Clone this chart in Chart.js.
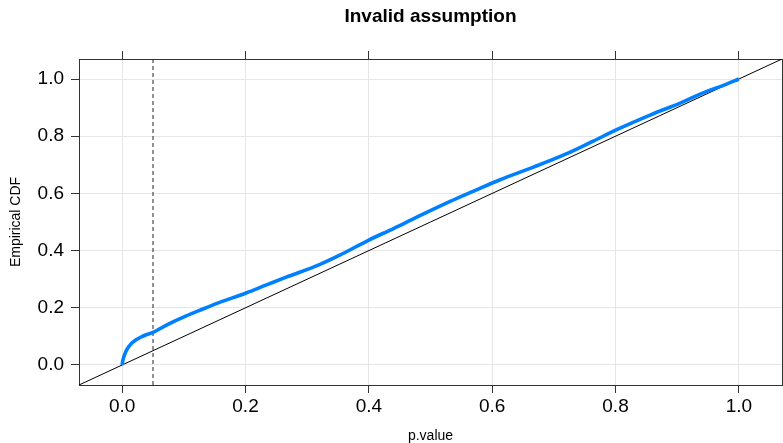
<!DOCTYPE html>
<html>
<head>
<meta charset="utf-8">
<script src="https://cdn.jsdelivr.net/npm/chart.js@4.4.1/dist/chart.umd.min.js"></script>
<style>
  html, body { margin: 0; padding: 0; background: #ffffff; }
  #wrap { width: 783px; height: 443px; }
</style>
</head>
<body>
<div id="wrap"><canvas id="c" width="783" height="443"></canvas></div>
<script>
// ---- data ----
const pValue = [0, 0.001, 0.003, 0.006, 0.010, 0.015, 0.022, 0.030, 0.038, 0.049, 0.075, 0.103, 0.130, 0.157, 0.200, 0.233, 0.266, 0.320, 0.352, 0.400, 0.440, 0.477, 0.531, 0.570, 0.612, 0.666, 0.720, 0.764, 0.801, 0.856, 0.904, 0.947, 0.975, 1.000];
const ecdf   = [0, 0.015, 0.030, 0.047, 0.062, 0.075, 0.087, 0.097, 0.105, 0.113, 0.143, 0.171, 0.195, 0.218, 0.251, 0.279, 0.307, 0.351, 0.383, 0.437, 0.477, 0.516, 0.571, 0.608, 0.647, 0.691, 0.738, 0.783, 0.822, 0.874, 0.915, 0.956, 0.978, 1.000];
const xTickValues = [0, 0.2, 0.4, 0.6, 0.8, 1.0];
const yTickValues = [0, 0.2, 0.4, 0.6, 0.8, 1.0];
const alphaLevel = 0.05;
const axisMin = -0.07;
const axisMax = 1.07;
const titleText = 'Invalid assumption';
const xLabel = 'p.value';
const yLabel = 'Empirical CDF';

const FONT = "'Liberation Sans', Arial, Helvetica, sans-serif";
const GRID = '#e6e6e6';
const FRAME = '#333333';

const curve = pValue.map((x, i) => ({ x: x, y: ecdf[i] }));
const diag = [{ x: axisMin, y: axisMin }, { x: axisMax, y: axisMax }];
const vline = [{ x: alphaLevel, y: axisMin }, { x: alphaLevel, y: axisMax }];

function setTicks(values) {
  return function (scale) { scale.ticks = values.map(v => ({ value: v })); };
}
const fmt = v => Number(v).toFixed(1);

new Chart(document.getElementById('c'), {
  type: 'scatter',
  data: {
    datasets: [
      { data: diag, showLine: true, borderColor: '#000000', borderWidth: 1, pointRadius: 0, order: 2 },
      { data: vline, showLine: true, borderColor: '#222222', borderWidth: 1, borderDash: [4, 3], pointRadius: 0, order: 3 },
      { data: curve, showLine: true, borderColor: '#0080ff', borderWidth: 3.6, pointRadius: 0,
        cubicInterpolationMode: 'monotone', order: 1 }
    ]
  },
  options: {
    responsive: false,
    animation: false,
    events: [],
    layout: { padding: 0 },
    plugins: {
      legend: { display: false },
      tooltip: { enabled: false },
      title: {
        display: true, text: titleText, color: '#000000', fullSize: false,
        font: { family: FONT, size: 19, weight: 'bold', lineHeight: 1.2 },
        padding: { top: 5, bottom: 23.2 }
      }
    },
    scales: {
      x: {
        type: 'linear', position: 'bottom', min: axisMin, max: axisMax,
        afterBuildTicks: setTicks(xTickValues),
        afterFit: s => { s.height = 58; },
        ticks: { callback: fmt, color: '#000000', padding: 2, maxRotation: 0,
                 font: { family: FONT, size: 19, lineHeight: 1.2 } },
        grid: { color: GRID, tickColor: FRAME, tickLength: 8, lineWidth: 1 },
        border: { display: true, color: FRAME, width: 1 },
        title: { display: true, text: xLabel, color: '#000000',
                 font: { family: FONT, size: 14, lineHeight: 1.0 }, padding: { top: 0, bottom: 0 } }
      },
      x2: {
        type: 'linear', position: 'top', min: axisMin, max: axisMax,
        afterBuildTicks: setTicks(xTickValues),
        afterFit: s => { s.height = 8; },
        ticks: { display: false },
        grid: { drawOnChartArea: false, tickColor: FRAME, tickLength: 8 },
        border: { display: true, color: FRAME, width: 1 }
      },
      y: {
        type: 'linear', position: 'left', min: axisMin, max: axisMax,
        afterBuildTicks: setTicks(yTickValues),
        afterFit: s => { s.width = 79; },
        ticks: { callback: fmt, color: '#000000', padding: 7,
                 font: { family: FONT, size: 19, lineHeight: 1.2 } },
        grid: { color: GRID, tickColor: FRAME, tickLength: 8, lineWidth: 1 },
        border: { display: true, color: FRAME, width: 1 },
        title: { display: true, text: yLabel, color: '#000000',
                 font: { family: FONT, size: 14, lineHeight: 1.0 }, padding: { top: 9, bottom: 0 } }
      },
      y2: {
        type: 'linear', position: 'right', min: axisMin, max: axisMax,
        afterBuildTicks: setTicks(yTickValues),
        afterFit: s => { s.width = 1; },
        ticks: { display: false },
        grid: { drawOnChartArea: false, drawTicks: false },
        border: { display: true, color: FRAME, width: 1 }
      }
    }
  }
});
</script>
</body>
</html>
